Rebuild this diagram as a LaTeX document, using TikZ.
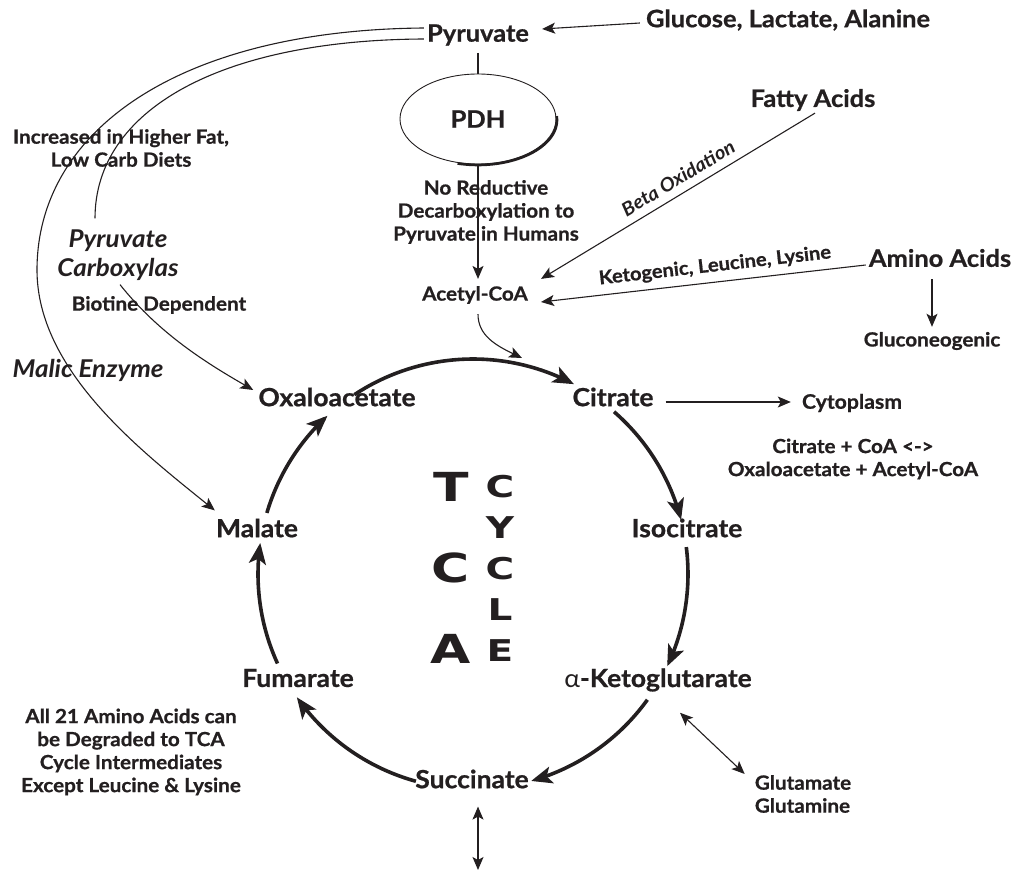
\documentclass[tikz,border=0pt]{standalone}
\usepackage{fontspec}
\usepackage{tikz}
\usetikzlibrary{shapes,arrows.meta,positioning,calc}
\setmainfont{Lato}[FakeStretch=1.06, BoldFeatures={FakeBold=0.8}]
\newfontfamily\widefont{DejaVu Sans}[FakeStretch=1.3]
\definecolor{ink}{HTML}{231F20}

\begin{document}
\begin{tikzpicture}[
    x=1pt, y=-1pt, color=ink,
    lbl/.style={inner sep=0pt, font=\bfseries\fontsize{24}{28}\selectfont},
    big/.style={inner sep=0pt, font=\bfseries\fontsize{25}{30}\selectfont},
    note/.style={inner sep=0pt, align=center, font=\bfseries\fontsize{19.5}{23}\selectfont},
    enz/.style={inner sep=0pt, align=center, font=\bfseries\itshape\fontsize{24.5}{29}\selectfont},
    tilted/.style={inner sep=0pt, font=\bfseries\fontsize{19}{22}\selectfont},
    link/.style={-{Stealth[length=13pt,width=11pt,inset=3pt]}, line width=1.1pt},
    dlink/.style={{Stealth[length=13pt,width=11pt,inset=3pt]}-{Stealth[length=13pt,width=11pt,inset=3pt]}, line width=1.1pt},
    cyc/.style={-{Stealth[length=21pt,width=17pt,inset=5pt]}, line width=3.6pt},
    curve/.style={line width=1.1pt}
]
\useasboundingbox (0,0) rectangle (1013,872);

% Inputs at the top
\node[lbl] (pyr) at (478,35) {Pyruvate};
\node[lbl] (glu) at (788,20) {Glucose, Lactate, Alanine};
\node[ellipse, draw, line width=0.9pt, minimum width=156pt, minimum height=90pt, inner sep=0pt,
      font=\bfseries\fontsize{24}{28}\selectfont] (pdh) at (478,119) {PDH};
\draw[line width=2.6pt] plot[domain=-5:105, samples=40] ({478+79*cos(\x)}, {120+45*sin(\x)});
\node[note] (nored) at (486,212) {No Reductive\\Decarboxylation to\\Pyruvate in Humans};
\node[note] (acoa) at (475,295) {Acetyl-CoA};
\node[lbl] (fa) at (813,100) {Fatty Acids};
\node[lbl] (aa) at (940,258) {Amino Acids};
\node[note] (gneo) at (932,341) {Gluconeogenic};
\node[tilted, font=\bfseries\itshape\fontsize{19}{22}\selectfont, rotate=31] (beta) at (678,178) {Beta Oxidation};
\node[tilted, rotate=6.5] (keto) at (715,266) {Ketogenic, Leucine, Lysine};

% Left side labels
\node[note] (hfat) at (121,148) {Increased in Higher Fat,\\Low Carb Diets};
\node[enz] (pc) at (118,255) {Pyruvate\\Carboxylas};
\node[note] (biot) at (159,305) {Biotine Dependent};
\node[enz] (malic) at (88,370) {Malic Enzyme};

% Cycle intermediates
\node[big] (oaa) at (337,397) {Oxaloacetate};
\node[big] (cit) at (613,397) {Citrate};
\node[big] (iso) at (687,528) {Isocitrate};
\node[big] (akg) at (658,680) {{\mdseries α}-Ketoglutarate};
\node[big] (succ) at (472,779) {Succinate};
\node[big] (fum) at (298,678) {Fumarate};
\node[big] (mal) at (257,528) {Malate};

\node[inner sep=0pt, align=center, font=\widefont\bfseries\fontsize{40}{81}\selectfont] (tca) at (451,568) {T\\C\\A};
\node[inner sep=0pt, align=center, font=\widefont\bfseries\fontsize{30}{41}\selectfont] (cycle) at (500,568) {C\\Y\\C\\L\\E};

% Right and bottom notes
\node[note, font=\bfseries\fontsize{20}{23}\selectfont] (cyto) at (852,403) {Cytoplasm};
\node[note] (eqn) at (853,459) {Citrate + CoA <->\\Oxaloacetate + Acetyl-CoA};
\node[note, align=left] (glut) at (803,794) {Glutamate\\Glutamine};
\node[note] (all21) at (131,752) {All 21 Amino Acids can\\be Degraded to TCA\\Cycle Intermediates\\Except Leucine \& Lysine};
\coordinate (sucout) at (478,870);
\coordinate (join) at (522,358);
\coordinate (tc) at (473,574);

% Feeding arrows
\draw[link] ($(glu.west)+(-6,3)$) -- ($(pyr.east)+(13,-6)$);
\draw[curve] ($(pyr.south)+(0,7)$) -- (pdh.north);
\draw[link] (pdh.south) -- ($(pdh.south |- acoa.north)+(0,-7)$);
\draw[link] ($(fa.south)+(2,2)$) -- ($(acoa.north east)+(13,-7)$);
\draw[link] ($(aa.west)+(-3,7)$) -- ($(acoa.east)+(13,7)$);
\draw[link] ($(aa.south -| gneo.north)+(0,12)$) -- ($(gneo.north)+(0,-5)$);
\draw[link] ($(acoa.south)+(3,10)$) .. controls (478,335) and (495,345) .. (join);

% Anaplerotic routes
\draw[curve] ($(pyr.west)+(-3,4)$) .. controls (220,40) and (95,110) .. ($(pc.north)+(-23,-11)$);
\draw[link] ($(pc.south)+(2,4)$) .. controls (160,335) and (210,365) .. ($(oaa.west)+(-5,-7)$);
\draw[link] ($(pyr.west)+(-3,-7)$) .. controls (180,30) and (37,130) .. (37,270)
    .. controls (37,370) and (140,450) .. ($(mal.north west)+(-1,-8)$);

% TCA cycle
\begin{scope}[shift={(tc)}]
\draw[cyc] plot[domain=-123.5:-62, samples=40] (\x:215);
\draw[cyc] plot[domain=-49:-14.6, samples=30] (\x:215);
\draw[cyc] plot[domain=-7.2:25.4, samples=30] (\x:215);
\draw[cyc] plot[domain=35.8:74.3, samples=30] (\x:215);
\draw[cyc] plot[domain=105.4:145, samples=30] (\x:215);
\draw[cyc] plot[domain=155.4:188.3, samples=30] (\x:215);
\draw[cyc] plot[domain=196.5:227.4, samples=30] (\x:215);
\end{scope}

% Exits
\draw[link] ($(cit.east)+(12,5)$) -- ($(cyto.west)+(-11,-1)$);
\draw[dlink] ($(akg.south)+(22,21)$) -- ($(glut.north west)+(-10,-1)$);
\draw[dlink] ($(succ.south)+(6,18)$) -- (sucout);

\end{tikzpicture}
\end{document}
